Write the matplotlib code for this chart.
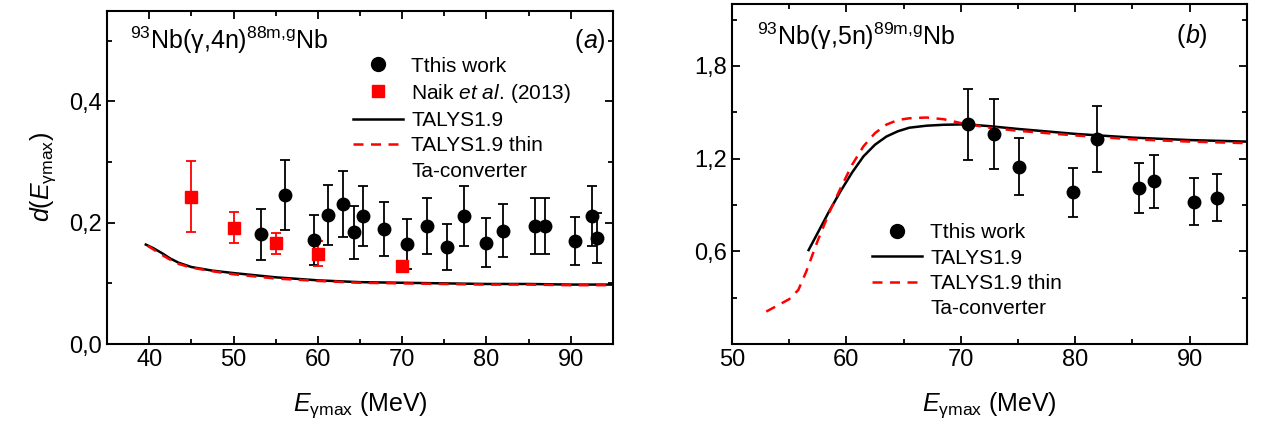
import matplotlib
matplotlib.use("Agg")
import matplotlib.pyplot as plt
from matplotlib.ticker import MultipleLocator, FuncFormatter
from matplotlib.lines import Line2D

plt.rcParams['font.family'] = ['Liberation Sans', 'DejaVu Sans']
plt.rcParams['mathtext.fontset'] = 'custom'
plt.rcParams['mathtext.rm'] = 'Liberation Sans'
plt.rcParams['mathtext.it'] = 'Liberation Sans:italic'
plt.rcParams['mathtext.bf'] = 'Liberation Sans:bold'

# (a) 93Nb(g,4n)88Nb
e_work_a = [53.3, 56.1, 59.5, 61.2, 63.0, 64.3, 65.4, 67.9, 70.6, 73.0,
            75.3, 77.3, 80.0, 82.0, 85.7, 87.0, 90.5, 92.5, 93.1]
d_work_a = [0.181, 0.246, 0.172, 0.213, 0.231, 0.184, 0.211, 0.190, 0.165, 0.194,
            0.160, 0.211, 0.167, 0.187, 0.194, 0.194, 0.170, 0.211, 0.175]
err_work_a = [0.042, 0.058, 0.041, 0.050, 0.055, 0.043, 0.050, 0.045, 0.041, 0.046,
              0.038, 0.050, 0.040, 0.044, 0.046, 0.046, 0.040, 0.050, 0.041]

e_naik = [45, 50, 55, 60, 70]
d_naik = [0.243, 0.192, 0.166, 0.149, 0.129]
err_naik = [0.059, 0.026, 0.017, 0.021, 0.004]

e_talys_a = [39.6, 40.5, 41.5, 42.5, 43.5, 45, 47.5, 50, 55, 60, 65, 70, 75, 80, 85, 90, 95]
d_talys_a = [0.164, 0.158, 0.150, 0.141, 0.134, 0.127, 0.121, 0.117, 0.110, 0.105,
             0.102, 0.101, 0.100, 0.099, 0.099, 0.098, 0.098]
e_thin_a = [39.8, 40.5, 41.5, 42.5, 43.5, 45, 47.5, 50, 55, 60, 65, 70, 75, 80, 85, 90, 95]
d_thin_a = [0.162, 0.156, 0.147, 0.139, 0.132, 0.126, 0.120, 0.115, 0.108, 0.104,
            0.101, 0.100, 0.099, 0.098, 0.098, 0.097, 0.097]

# (b) 93Nb(g,5n)89Nb
e_work_b = [70.6, 72.9, 75.1, 79.8, 81.9, 85.6, 86.9, 90.4, 92.4]
d_work_b = [1.422, 1.362, 1.147, 0.981, 1.325, 1.009, 1.052, 0.922, 0.948]
err_work_b = [0.229, 0.227, 0.184, 0.158, 0.214, 0.163, 0.169, 0.150, 0.153]

e_talys_b = [56.7, 57.5, 58.5, 59.5, 60.5, 61.5, 62.5, 63.5, 64.5, 65.5, 67, 68.5,
             70.5, 72.5, 75, 80, 85, 90, 95]
d_talys_b = [0.608, 0.72, 0.86, 0.99, 1.11, 1.215, 1.29, 1.343, 1.377, 1.40, 1.413, 1.419,
             1.422, 1.41, 1.392, 1.36, 1.336, 1.32, 1.31]
e_thin_b = [53, 54, 55, 55.8, 56.5, 57.5, 58.5, 59.5, 60.5, 61.5, 62.5, 63.5, 64.5,
            65.5, 67, 68.5, 70, 72.5, 75, 80, 85, 90, 95]
d_thin_b = [0.21, 0.25, 0.29, 0.35, 0.47, 0.67, 0.85, 1.01, 1.16, 1.28, 1.365, 1.42, 1.45,
            1.461, 1.466, 1.455, 1.43, 1.40, 1.38, 1.35, 1.325, 1.31, 1.30]

comma = FuncFormatter(lambda v, p: f'{v:.1f}'.replace('.', ','))

fig = plt.figure(figsize=(12.62, 4.42), dpi=100)
ax1 = fig.add_axes([0.0848, 0.2217, 0.4009, 0.7545])
ax2 = fig.add_axes([0.580, 0.2217, 0.408, 0.769])


def style(ax):
    for s in ax.spines.values():
        s.set_linewidth(1.5)
    ax.tick_params(which='both', direction='in', top=True, right=True, width=1.3,
                   labelsize=17)
    ax.tick_params(which='major', length=6)
    ax.tick_params(which='minor', length=3.5)
    ax.xaxis.set_major_locator(MultipleLocator(10))
    ax.xaxis.set_minor_locator(MultipleLocator(5))
    ax.yaxis.set_major_formatter(comma)
    ax.set_xlabel(r'$E_{\mathrm{\gamma max}}$ (MeV)', fontsize=18, labelpad=14)


dash = (0, (4, 3))
leg_kw = dict(loc='upper left', frameon=False, fontsize=15, handlelength=2.4,
              handletextpad=0.4, labelspacing=0.3, borderpad=0, borderaxespad=0)

# panel a
ax1.plot(e_talys_a, d_talys_a, color='black', lw=1.8)
ax1.plot(e_thin_a, d_thin_a, color='red', lw=1.8, ls=dash)
ax1.errorbar(e_work_a, d_work_a, yerr=err_work_a, fmt='o', color='black', ms=9,
             elinewidth=1.3, capsize=3.5, capthick=1.3)
ax1.errorbar(e_naik, d_naik, yerr=err_naik, fmt='s', color='red', ms=8,
             elinewidth=1.3, capsize=3.5, capthick=1.3)
ax1.set_xlim(35, 95)
ax1.set_ylim(0, 0.55)
ax1.yaxis.set_major_locator(MultipleLocator(0.2))
ax1.yaxis.set_minor_locator(MultipleLocator(0.1))
style(ax1)
ax1.set_ylabel(r'$d(E_{\mathrm{\gamma max}})$', fontsize=18, labelpad=8)
ax1.text(0.045, 0.91, r'$^{93}$Nb($\mathrm{\gamma}$,4n)$^{\mathrm{88m{,}g}}$Nb',
         transform=ax1.transAxes, fontsize=18, va='center', ha='left')
ax1.text(0.94, 0.91, '(', transform=ax1.transAxes, fontsize=18, va='center', ha='right')
ax1.text(0.94, 0.91, r'$a$)', transform=ax1.transAxes, fontsize=18, va='center', ha='left')

h_a = [Line2D([], [], marker='o', color='black', ls='none', ms=10),
       Line2D([], [], marker='s', color='red', ls='none', ms=8.5),
       Line2D([], [], color='black', lw=1.8),
       Line2D([], [], color='red', lw=1.8, ls=dash),
       Line2D([], [], ls='none')]
l_a = ['Tthis work', r'Naik $et\ al.\,$(2013)', 'TALYS1.9', 'TALYS1.9 thin', 'Ta-converter']
ax1.legend(h_a, l_a, bbox_to_anchor=(0.486, 0.862), **leg_kw)

# panel b
ax2.plot(e_talys_b, d_talys_b, color='black', lw=1.8)
ax2.plot(e_thin_b, d_thin_b, color='red', lw=1.8, ls=dash)
ax2.errorbar(e_work_b, d_work_b, yerr=err_work_b, fmt='o', color='black', ms=9,
             elinewidth=1.3, capsize=3.5, capthick=1.3)
ax2.set_xlim(50, 95)
ax2.set_ylim(0, 2.2)
ax2.set_yticks([0.6, 1.2, 1.8])
ax2.set_yticks([0.3, 0.9, 1.5, 2.1], minor=True)
style(ax2)
ax2.text(0.049, 0.905, r'$^{93}$Nb($\mathrm{\gamma}$,5n)$^{\mathrm{89m{,}g}}$Nb',
         transform=ax2.transAxes, fontsize=18, va='center', ha='left')
ax2.text(0.88, 0.905, '(', transform=ax2.transAxes, fontsize=18, va='center', ha='right')
ax2.text(0.88, 0.905, r'$b$)', transform=ax2.transAxes, fontsize=18, va='center', ha='left')

h_b = [h_a[0], h_a[2], h_a[3], h_a[4]]
l_b = ['Tthis work', 'TALYS1.9', 'TALYS1.9 thin', 'Ta-converter']
ax2.legend(h_b, l_b, bbox_to_anchor=(0.272, 0.355), **leg_kw)

fig.savefig('out.png', dpi=100)
